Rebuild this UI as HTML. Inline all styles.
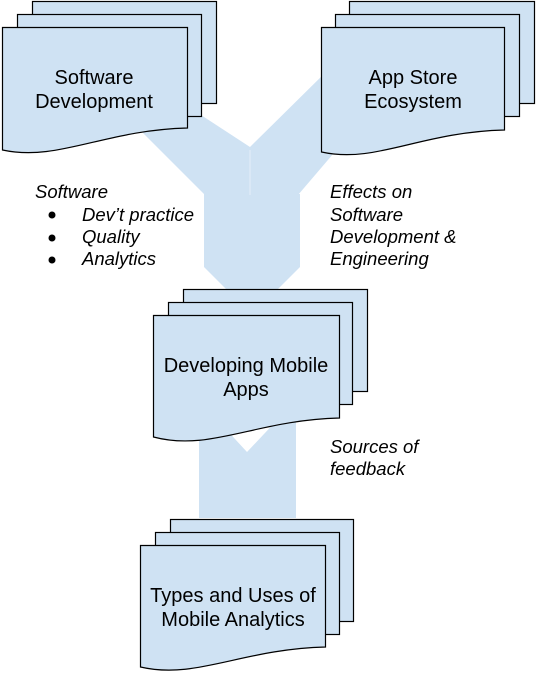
<!DOCTYPE html>
<html><head><meta charset="utf-8"><style>
html,body{margin:0;padding:0;background:#fff;}
svg{display:block;}
text{font-family:"Liberation Sans",Arial,sans-serif;fill:#000;}
.t{font-size:20px;text-anchor:middle;}
.l{font-size:18.5px;font-style:italic;}
</style></head><body>
<svg width="537" height="676" viewBox="0 0 537 676">
<g fill="#cfe2f3">
<polygon points="143,133 178,100 250,147 250,195 205,195"/>
<polygon points="250,147 330,68 345,140 298,195 250,195"/>
<polygon points="204,194 300,194 300,267 277,290 227,290 204,267"/>
<polygon points="199,400 247,452 296,400 296,518 199,518"/>
</g>
<line x1="250" y1="150" x2="250" y2="195" stroke="#e4eef8" stroke-width="1"/>
<g fill="#cfe2f3" stroke="#000" stroke-width="1.2">
<rect x="32.5" y="1.5" width="184" height="102"/>
<rect x="17.5" y="14.5" width="184" height="102"/>
<path d="M2.5,27.5 H187.5 V128 C104,130 58,162 2.5,150 Z"/>
<rect x="349.5" y="1.5" width="185" height="102"/>
<rect x="335.5" y="14.5" width="184" height="102"/>
<path d="M321.5,27.5 H504.5 V130 C420,132 376,164 321.5,152 Z"/>
<rect x="183.5" y="289.5" width="184" height="102"/>
<rect x="168.5" y="302.5" width="184" height="102"/>
<path d="M153.5,315.5 H339.5 V418 C256,420 210,452 153.5,437 Z"/>
<rect x="170.5" y="519.5" width="183" height="102"/>
<rect x="155.5" y="532.5" width="184" height="102"/>
<path d="M140.5,545.5 H325.5 V647 C242,649 196,680 140.5,667 Z"/>
</g>
<text class="t" x="94" y="84">Software</text>
<text class="t" x="94" y="108">Development</text>
<text class="t" x="413" y="84">App Store</text>
<text class="t" x="413" y="108">Ecosystem</text>
<text class="t" x="246" y="372">Developing Mobile</text>
<text class="t" x="246" y="396">Apps</text>
<text class="t" x="233" y="602">Types and Uses of</text>
<text class="t" x="233" y="626">Mobile Analytics</text>
<text class="l" x="35" y="198">Software</text>
<circle cx="52" cy="215" r="3.5"/>
<circle cx="52" cy="238" r="3.5"/>
<circle cx="52" cy="260" r="3.5"/>
<text class="l" x="82" y="221">Dev’t practice</text>
<text class="l" x="82" y="243">Quality</text>
<text class="l" x="82" y="265">Analytics</text>
<text class="l" x="330" y="198">Effects on</text>
<text class="l" x="330" y="221">Software</text>
<text class="l" x="330" y="243">Development &amp;</text>
<text class="l" x="330" y="265">Engineering</text>
<text class="l" x="330" y="453">Sources of</text>
<text class="l" x="330" y="475">feedback</text>
</svg>
</body></html>
